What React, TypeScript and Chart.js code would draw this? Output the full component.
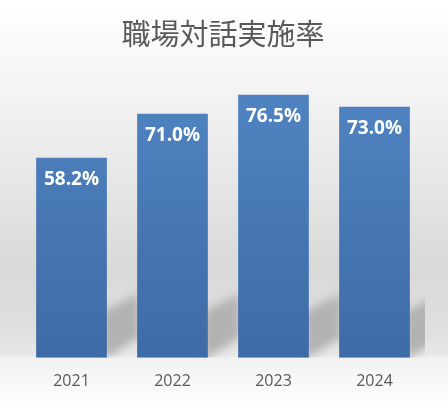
import React, { useEffect, useRef } from "react";
import { Chart, registerables } from "chart.js";

Chart.register(...registerables);

const categories = ["2021", "2022", "2023", "2024"];
const rates = [58.2, 71.0, 76.5, 73.0];
const titleText = "職場対話実施率";

const bgPlugin = {
  id: "bgPlugin",
  beforeDraw(chart: any) {
    const { ctx, width, height } = chart;
    ctx.save();
    const g = ctx.createLinearGradient(0, 0, 0, height);
    g.addColorStop(0, "#ffffff");
    g.addColorStop(140 / 412, "#ededed");
    g.addColorStop(270 / 412, "#d9d9d9");
    g.addColorStop(330 / 412, "#dfdfdf");
    g.addColorStop(356 / 412, "#e9e9e9");
    g.addColorStop(358 / 412, "#f2f2f2");
    g.addColorStop(1, "#ffffff");
    ctx.fillStyle = g;
    ctx.fillRect(0, 0, width, height);
    ctx.restore();
  },
  beforeDatasetsDraw(chart: any) {
    const { ctx, chartArea } = chart;
    const meta = chart.getDatasetMeta(0);
    ctx.save();
    ctx.beginPath();
    ctx.rect(chartArea.left, chartArea.top, chartArea.right - chartArea.left, chartArea.bottom - chartArea.top);
    ctx.clip();
    ctx.filter = "blur(4px)";
    ctx.fillStyle = "#b2b2b2";
    const b = chartArea.bottom;
    meta.data.forEach((bar: any) => {
      const r = bar.x + bar.width / 2;
      ctx.beginPath();
      ctx.moveTo(r - 4, b - 46);
      ctx.lineTo(r + 32, b - 64);
      ctx.lineTo(r + 32, b - 20);
      ctx.lineTo(r - 4, b + 2);
      ctx.closePath();
      ctx.fill();
    });
    ctx.restore();
  },
  afterDatasetsDraw(chart: any) {
    const { ctx } = chart;
    const meta = chart.getDatasetMeta(0);
    ctx.save();
    ctx.fillStyle = "#ffffff";
    ctx.font = "bold 19px 'Open Sans'";
    ctx.textAlign = "center";
    ctx.textBaseline = "middle";
    meta.data.forEach((bar: any, i: number) => {
      ctx.fillText(rates[i].toFixed(1) + "%", bar.x, bar.y + 22);
    });
    ctx.restore();
  },
};

export default function App() {
  const ref = useRef<HTMLCanvasElement>(null);
  useEffect(() => {
    document.body.style.margin = "0";
    const canvas = ref.current!;
    const chart = new Chart(canvas, {
      type: "bar",
      data: {
        labels: categories,
        datasets: [
          {
            data: rates,
            backgroundColor: (c: any) => {
              const area = c.chart.chartArea;
              if (!area) return "#4a7bb7";
              const g = c.chart.ctx.createLinearGradient(0, area.top, 0, area.bottom);
              g.addColorStop(0, "#5084c2");
              g.addColorStop(1, "#3d6ba5");
              return g;
            },
            borderWidth: 0,
            barPercentage: 0.7,
            categoryPercentage: 1,
          },
        ],
      },
      options: {
        animation: false,
        responsive: false,
        layout: { padding: { left: 21, right: 23, top: 0, bottom: 7 } },
        plugins: {
          legend: { display: false },
          tooltip: { enabled: false },
          title: {
            display: true,
            text: titleText,
            color: "#595959",
            font: { family: "'Noto Sans CJK JP'", size: 29, weight: "normal" },
            padding: { top: 17, bottom: 31 },
          },
        },
        scales: {
          x: {
            grid: { display: false, drawTicks: false },
            border: { display: false },
            ticks: { color: "#595959", font: { family: "'Open Sans'", size: 16 }, padding: 14 },
          },
          y: { display: false, min: 0, max: 80 },
        },
      },
      plugins: [bgPlugin],
    });
    return () => chart.destroy();
  }, []);
  return <canvas ref={ref} width={448} height={412} style={{ display: "block" }} />;
}
